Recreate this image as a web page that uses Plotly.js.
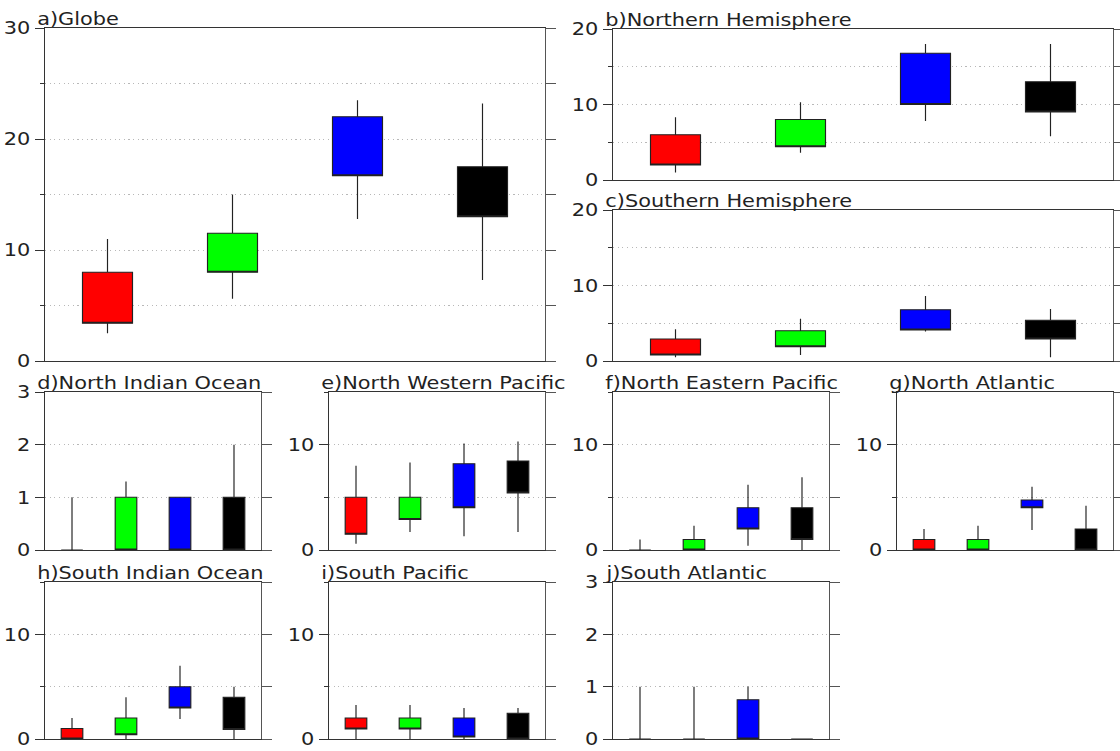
<!DOCTYPE html>
<html>
<head>
<meta charset="utf-8">
<script src="https://cdn.plot.ly/plotly-3.0.1.min.js"></script>
<style>
html,body{margin:0;padding:0;background:#fff;overflow:hidden;}
#chart{width:966px;height:751px;transform:scaleX(1.15942);transform-origin:0 0;}
</style>
</head>
<body>
<div id="chart"></div>
<script>
// ---------- data ----------
const panelTitles = ['a)Globe','b)Northern Hemisphere','c)Southern Hemisphere','d)North Indian Ocean','e)North Western Pacific','f)North Eastern Pacific','g)North Atlantic','h)South Indian Ocean','i)South Pacific','j)South Atlantic'];
const yMax = [30,20,20,3,15,15,15,15,15,3];
const categories = [1,2,3,4];
const seriesColors = ['#ff0000','#00ff00','#0000ff','#000000'];
// whisker bottom per panel (red, green, blue, black)
const whiskerLow = [
  [2.5,5.6,12.8,7.3],
  [1.0,3.6,7.8,5.8],
  [0.5,0.8,3.9,0.5],
  [0,0,0,0],
  [0.6,1.7,1.3,1.7],
  [0,0,0.4,0],
  [0,0,1.9,0],
  [0,0,1.9,0],
  [0,0,0,0],
  [0,0,0,0]
];
// box bottom
const boxLow = [
  [3.4,8.0,16.7,13.0],
  [2.0,4.4,10.0,9.0],
  [0.8,1.9,4.1,2.9],
  [0,0,0,0],
  [1.5,2.9,4.0,5.4],
  [0,0,2.0,1.0],
  [0,0,4.0,0],
  [0,0.4,2.95,0.9],
  [0.95,0.95,0.2,0],
  [0,0,0,0]
];
// box top
const boxHigh = [
  [8.0,11.5,22.0,17.5],
  [6.0,8.0,16.8,13.0],
  [2.9,4.0,6.8,5.4],
  [0,1,1,1],
  [5.0,5.0,8.2,8.45],
  [0,1.0,4.0,4.0],
  [1.0,1.0,4.75,2.0],
  [1.0,2.0,5.0,4.0],
  [2.0,2.0,2.0,2.45],
  [0,0,0.75,0]
];
// whisker top
const whiskerHigh = [
  [11.0,15.0,23.5,23.2],
  [8.3,10.3,18.0,18.0],
  [4.2,5.6,8.6,6.9],
  [1.0,1.3,1.0,2.0],
  [8.0,8.3,10.1,10.3],
  [1.0,2.3,6.2,6.9],
  [2.0,2.3,6.0,4.2],
  [2.0,4.0,7.0,5.0],
  [3.25,3.25,2.95,2.95],
  [1,1,1,0]
];

// ---------- layout geometry (final pixels: left, right, top, bottom) ----------
const W = 1120, H = 751;
const PW = 966; // plot width before horizontal stretch
const rects = [
  [45,545,28,361],[613,1113,29,180],[613,1113,210,361],
  [45,261,392,550],[329,545,392,550],[613,829,392,550],[897,1113,392,550],
  [45,261,582,739],[329,545,582,739],[613,829,582,739]
];
const FONT = 'DejaVu Sans, Liberation Sans, sans-serif';
const AX = '#333', AXR = '#555', GRID = '#b8b8b8';

const data = [];
const layout = {
  width: PW, height: H,
  margin: {l:0, r:0, t:0, b:0},
  paper_bgcolor: '#fff', plot_bgcolor: '#fff',
  showlegend: false,
  font: {family: FONT, size: 18, color: '#222'},
  annotations: []
};

function axId(prefix, n) { return n === 1 ? prefix : prefix + n; }

panelTitles.forEach((title, i) => {
  const [l, r, t, b] = rects[i];
  const xn = i + 1, yl = 2*i + 1, yr = 2*i + 2;
  const xid = axId('x', xn), ylid = axId('y', yl), yrid = axId('y', yr);
  const xd = [l / W, r / W], yd = [1 - b / H, 1 - t / H];
  const small = yMax[i] <= 3;
  const major = small ? 1 : 10;

  layout[axId('xaxis', xn)] = {
    domain: xd, anchor: ylid, range: [0.5, 4.5],
    showline: true, linecolor: AX, linewidth: 1, mirror: true,
    showgrid: false, zeroline: false, showticklabels: false, ticks: '', fixedrange: true
  };
  const yl_ax = {
    domain: yd, anchor: xid, range: [0, yMax[i]],
    tick0: 0, dtick: major, ticks: 'outside', ticklen: 8, tickcolor: AX, tickwidth: 1,
    showline: true, linecolor: AX, linewidth: 1,
    showgrid: true, gridcolor: GRID, griddash: '1px,3px', gridwidth: 1,
    zeroline: false, tickfont: {family: FONT, size: 18, color: '#222'}, fixedrange: true
  };
  if (!small) {
    yl_ax.minor = {tick0: 0, dtick: 5, ticks: 'outside', ticklen: 3, tickcolor: AX, tickwidth: 1,
                   showgrid: true, gridcolor: GRID, griddash: '1px,3px', gridwidth: 1};
  }
  layout[axId('yaxis', yl)] = yl_ax;
  layout[axId('yaxis', yr)] = {
    overlaying: ylid, side: 'right', anchor: xid, range: [0, yMax[i]],
    tick0: 0, dtick: small ? 1 : 5, ticks: 'outside', ticklen: 8.5, tickcolor: AXR, tickwidth: 1,
    showline: true, linecolor: AXR, linewidth: 1, showgrid: false, zeroline: false,
    showticklabels: false, fixedrange: true
  };

  categories.forEach((c, k) => {
    data.push({
      type: 'box', xaxis: xid, yaxis: ylid,
      x: [c],
      q1: [boxLow[i][k]], median: [boxLow[i][k]], q3: [boxHigh[i][k]],
      lowerfence: [whiskerLow[i][k]], upperfence: [whiskerHigh[i][k]],
      width: 0.4, whiskerwidth: 0,
      fillcolor: seriesColors[k],
      line: {color: '#222', width: 1},
      hoverinfo: 'skip', showlegend: false
    });
  });
  // empty trace so that the mirrored right-hand axis is drawn
  data.push({type: 'scatter', mode: 'lines', x: [], y: [], xaxis: xid, yaxis: yrid,
             hoverinfo: 'skip', showlegend: false});

  layout.annotations.push({
    text: title, xref: 'paper', yref: 'paper',
    x: (l - 10) / W, y: 1 - t / H, xanchor: 'left', yanchor: 'bottom',
    yshift: -3, showarrow: false,
    font: {family: FONT, size: 18, color: '#222'}
  });
});

Plotly.newPlot('chart', data, layout, {staticPlot: true, displayModeBar: false});
</script>
</body>
</html>
